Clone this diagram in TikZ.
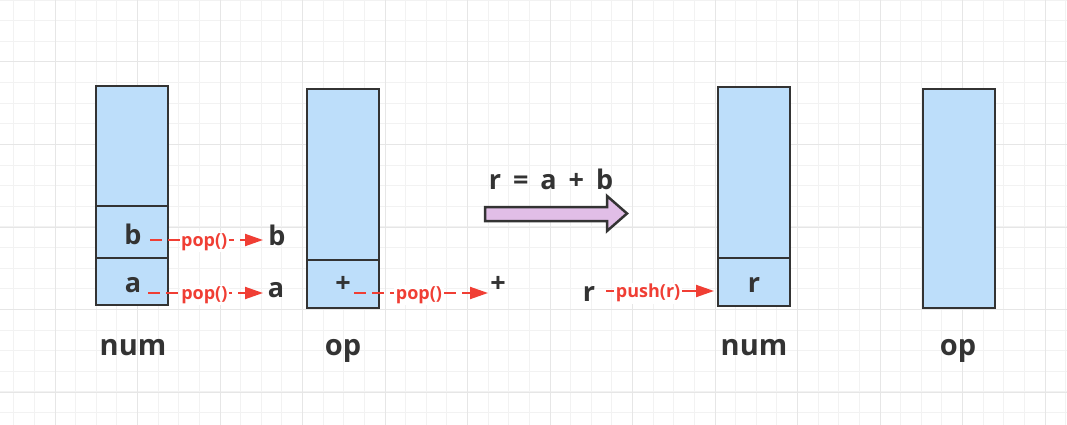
\documentclass[tikz,border=0pt]{standalone}
\usepackage{fontspec}
\setmainfont{Open Sans}
\usetikzlibrary{arrows.meta}
\definecolor{gridminor}{RGB}{242,242,242}
\definecolor{gridmajor}{RGB}{230,230,230}
\definecolor{cellfill}{RGB}{189,222,250}
\definecolor{ink}{RGB}{51,51,51}
\definecolor{popred}{RGB}{240,62,52}
\definecolor{lav}{RGB}{225,190,231}
\tikzset{
  cell/.style={draw=ink, line width=2.5pt, fill=cellfill, anchor=north west, outer sep=0pt, inner sep=0pt, minimum width=72pt},
  bigtxt/.style={text=ink, inner sep=0pt, anchor=base, font=\fontsize{27}{30}\selectfont\bfseries},
  captxt/.style={text=ink, inner sep=0pt, anchor=base, font=\fontsize{29}{32}\selectfont\bfseries},
  redarrow/.style={draw=popred, line width=2pt, dash pattern=on 12pt off 6pt, -{Triangle[length=18pt,width=12pt]}},
  oplabel/.style={fill=white, text=popred, inner sep=1.5pt, yshift=-2pt, font=\fontsize{18}{20}\selectfont\bfseries},
  fatarrow/.style={draw=ink, line width=2.5pt, fill=lav, line join=miter}
}
\begin{document}
\begin{tikzpicture}[x=1pt,y=-1pt]
\useasboundingbox[fill=white] (0,0) rectangle (1067,425);
% grid
\foreach \k in {-2,...,49}{
  \pgfmathsetmacro{\xx}{55+20.625*\k}
  \draw[gridminor, line width=1pt] (\xx,0) -- (\xx,425);
}
\foreach \k in {0,...,20}{
  \pgfmathsetmacro{\yy}{0.1+20.625*\k}
  \draw[gridminor, line width=1pt] (0,\yy) -- (1067,\yy);
}
\foreach \k in {0,...,12}{
  \pgfmathsetmacro{\xx}{55+82.5*\k}
  \draw[gridmajor, line width=1pt] (\xx,0) -- (\xx,425);
}
\foreach \k in {0,...,4}{
  \pgfmathsetmacro{\yy}{62+82.5*\k}
  \draw[gridmajor, line width=1pt] (0,\yy) -- (1067,\yy);
}
% left num stack
\node[cell, minimum height=120pt] (n1top) at (96,86) {};
\node[cell, minimum height=52pt] (n1b) at (96,206) {};
\node[cell, minimum height=47pt] (n1a) at (96,258) {};
% left op stack
\node[cell, minimum height=171pt] (o1top) at (307,89) {};
\node[cell, minimum height=48pt] (o1p) at (307,260) {};
% right num stack
\node[cell, minimum height=171pt] (n2top) at (718,87) {};
\node[cell, minimum height=48pt] (n2r) at (718,258) {};
% right op stack
\node[cell, minimum height=219pt] (o2) at (923,89) {};
% cell contents
\node[bigtxt] (tb) at (133,244) {b};
\node[bigtxt] (ta) at (133,292) {a};
\node[bigtxt, anchor=center] (tp) at (343,284) {+};
\node[bigtxt] (tr) at (754,292) {r};
% captions
\node[captxt] (cap1) at (133,355) {num};
\node[captxt] (cap2) at (343,355) {op};
\node[captxt] (cap3) at (754,355) {num};
\node[captxt] (cap4) at (958,355) {op};
% popped values
\node[bigtxt] (outb) at (277,245) {b};
\node[bigtxt] (outa) at (276,297) {a};
\node[bigtxt, anchor=center] (outp) at (498,284) {+};
\node[bigtxt] (inr) at (589,301) {r};
% arrow endpoints
\coordinate (sb) at (150,240);
\coordinate (eb) at (263,240);
\coordinate (sa) at (148,293);
\coordinate (ea) at (263,293);
\coordinate (sp) at (354,293);
\coordinate (ep) at (488,293);
\coordinate (sr) at (606,291);
\coordinate (er) at (714,291);
\draw[redarrow] (sb) -- (eb) node[oplabel, pos=0.48] (lb) {pop()};
\draw[redarrow] (sa) -- (ea) node[oplabel, pos=0.49] (la) {pop()};
\draw[redarrow] (sp) -- (ep) node[oplabel, pos=0.485] (lp) {pop()};
\draw[redarrow, dash pattern=on 10pt off 0pt] (sr) -- (er) node[oplabel, pos=0.39] (lr) {push(r)};
% big transform arrow
\node[bigtxt] (eq) at (551,189) {r\hspace{12pt}=\hspace{12pt}a\hspace{12pt}+\hspace{12pt}b};
\draw[fatarrow] (485,207) -- (607,207) -- (607,196) -- (627,213.5) -- (607,231) -- (607,221) -- (485,221) -- cycle;
\end{tikzpicture}
\end{document}
